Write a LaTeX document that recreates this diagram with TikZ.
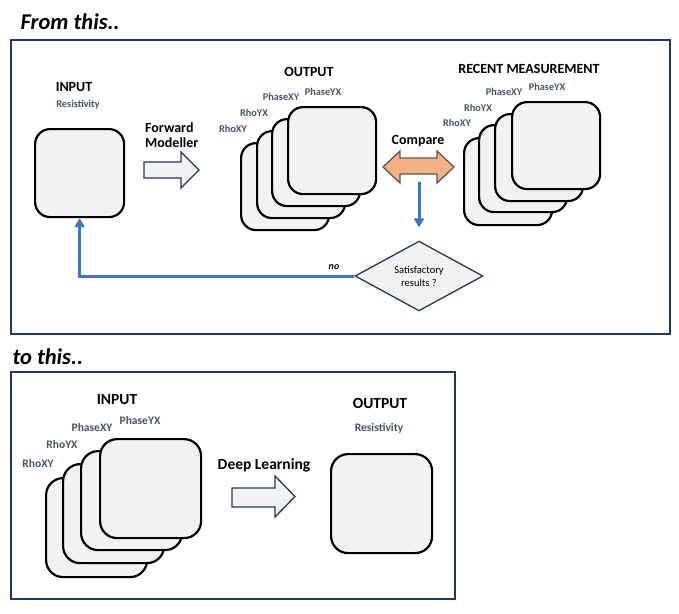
\documentclass[tikz,border=0pt]{standalone}
\usepackage{fontspec}
\setmainfont{Carlito}
\usetikzlibrary{arrows.meta,shapes.geometric}
\definecolor{navy}{HTML}{203864}
\definecolor{slate}{HTML}{44546A}
\definecolor{boxfill}{HTML}{F2F2F2}
\definecolor{orangef}{HTML}{F4B183}
\definecolor{blueline}{HTML}{4472C4}
\definecolor{darkgray}{HTML}{595959}
\begin{document}
\begin{tikzpicture}[x=1pt,y=-1pt,
  frame/.style={draw=navy,line width=1.8pt},
  cardA/.style={draw=black,fill=boxfill,line width=2.2pt,rounded corners=15pt,anchor=north west,minimum width=88pt,minimum height=87pt,inner sep=0pt},
  cardB/.style={draw=black,fill=boxfill,line width=2.2pt,rounded corners=17pt,anchor=north west,minimum width=101pt,minimum height=99pt,inner sep=0pt},
  head/.style={font=\bfseries\fontsize{14}{16}\selectfont},
  headB/.style={font=\bfseries\fontsize{15.5}{17}\selectfont},
  lbl/.style={text=slate,font=\bfseries\fontsize{10.3}{12}\selectfont},
  lblB/.style={text=slate,font=\bfseries\fontsize{11.5}{13}\selectfont},
  title/.style={font=\bfseries\itshape\fontsize{22.5}{26}\selectfont,anchor=base west},
  blockarrow/.style={draw=navy,fill=boxfill,line width=1.3pt,line join=miter},
  flow/.style={draw=blueline,line width=3pt,-{Triangle[width=10pt,length=9pt]}}
]
\useasboundingbox[fill=white] (0,0) rectangle (679,613);

% ---------- titles ----------
\node[title] (t1) at (17,29) {From this..};
\node[title] (t2) at (9,364) {to this..};

% ---------- top frame ----------
\draw[frame] (11,40) rectangle (670,334);

% input
\node[head] (inT) at (74,87) {INPUT};
\node[lbl] (inR) at (78,105) {Resistivity};
\node[cardA,minimum width=89pt,minimum height=88pt] (inbox) at (34,128) {};

% forward modeller
\node[head,align=left,anchor=north west,inner sep=0pt] (fm) at (145,122) {Forward\\[-1pt]Modeller};
\draw[blockarrow] (144,162)--(181,162)--(181,152)--(199,170)--(181,188)--(181,178)--(144,178)--cycle;

% output stack
\node[head] (outT) at (309,72) {OUTPUT};
\node[cardA] (o4) at (240,142) {};
\node[cardA] (o3) at (256,130) {};
\node[cardA] (o2) at (271,118) {};
\node[cardA] (o1) at (287,106) {};
\node[lbl] at (233,129) {RhoXY};
\node[lbl] at (254,113) {RhoYX};
\node[lbl] at (281,97) {PhaseXY};
\node[lbl] at (323,92) {PhaseYX};

% compare
\node[head] (cmpT) at (418,141) {Compare};
\draw[draw=darkgray,fill=orangef,line width=1.3pt,line join=miter]
  (383,167)--(400,151)--(400,158)--(437,158)--(437,151)--(454,167)--(437,183)--(437,174)--(400,174)--(400,183)--cycle;
\coordinate (cmpB) at (419,182);

% recent measurement stack
\node[head] (rmT) at (529,69) {RECENT MEASUREMENT};
\node[cardA] (r4) at (463,137) {};
\node[cardA] (r3) at (478,124) {};
\node[cardA] (r2) at (494,113) {};
\node[cardA] (r1) at (511,101) {};
\node[lbl] at (457,123) {RhoXY};
\node[lbl] at (478,108) {RhoYX};
\node[lbl] at (504,92) {PhaseXY};
\node[lbl] at (547,87) {PhaseYX};

% decision
\node[diamond,draw=navy,fill=boxfill,line width=1.3pt,minimum width=128pt,minimum height=65pt,inner sep=0pt,align=center,font=\fontsize{10.5}{13}\selectfont] (dia) at (419,276) {Satisfactory\\results ?};

\draw[flow,shorten >=13pt] (cmpB) -- (dia.north);
\draw[flow] (dia.west) -| (inbox.south);
\node[font=\bfseries\itshape\fontsize{10}{11}\selectfont] (no) at (334,267) {no};

% ---------- bottom frame ----------
\draw[frame] (11,372) rectangle (455,599);

\node[headB] (in2T) at (117,400) {INPUT};
\node[cardB] (b4) at (45,477) {};
\node[cardB] (b3) at (62,463) {};
\node[cardB] (b2) at (80,450) {};
\node[cardB] (b1) at (99,438) {};
\node[lblB] at (38,463) {RhoXY};
\node[lblB] at (62,444) {RhoYX};
\node[lblB] at (92,427) {PhaseXY};
\node[lblB] at (140,421) {PhaseYX};

\node[headB] (dl) at (264,465) {Deep Learning};
\draw[blockarrow] (232,488)--(275,488)--(275,476)--(295,496.5)--(275,517)--(275,507)--(232,507)--cycle;

\node[headB] (out2T) at (380,403) {OUTPUT};
\node[lblB] (out2R) at (379,428) {Resistivity};
\node[cardB] (outbox) at (330,453) {};
\end{tikzpicture}
\end{document}
